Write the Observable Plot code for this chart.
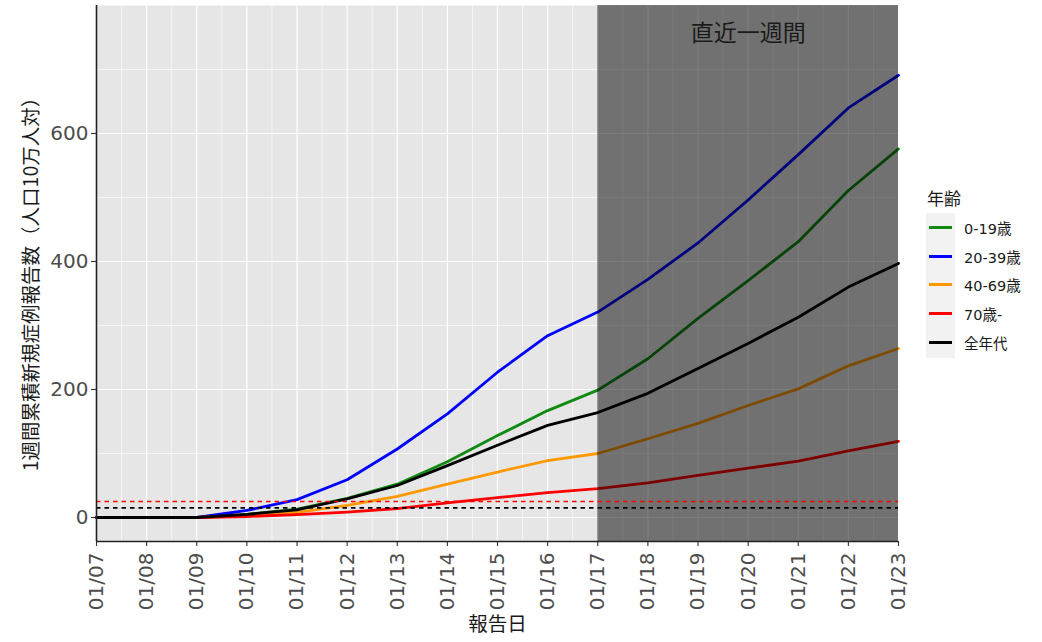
<!DOCTYPE html>
<html>
<head>
<meta charset="utf-8">
<script src="https://cdn.jsdelivr.net/npm/d3@7"></script>
<script src="https://cdn.jsdelivr.net/npm/@observablehq/plot@0.6"></script>
<style>
  html, body { margin: 0; padding: 0; background: #fff; }
  #wrap { position: relative; width: 1042px; height: 642px; font-family: "DejaVu Sans", "Noto Sans CJK JP", sans-serif; }
  #legend { position: absolute; left: 926px; top: 187px; color: #1a1a1a; }
  #legend .title { font-family: "Noto Sans CJK JP", sans-serif; font-size: 17px; height: 26px; line-height: 22px; margin-left: 1px; }
  #legend .keys { position: relative; }
  #legend .bg { position: absolute; left: 0; top: 0; width: 29px; height: 145px; background: #f2f2f2; }
  #legend .row { position: relative; height: 28.7px; display: flex; align-items: center; }
  #legend .swatch { width: 23px; height: 3px; margin-left: 3px; }
  #legend .label { margin-left: 12px; font-size: 14.5px; font-family: "DejaVu Sans", "Noto Sans CJK JP", sans-serif; color: #1a1a1a; }
</style>
</head>
<body>
<div id="wrap"></div>
<script>
// Report dates (month/day)
const dates = ["01/07","01/08","01/09","01/10","01/11","01/12","01/13","01/14","01/15",
               "01/16","01/17","01/18","01/19","01/20","01/21","01/22","01/23"];

// Age groups and their line colours
const ageGroups = ["0-19歳", "20-39歳", "40-69歳", "70歳-", "全年代"];
const groupColors = ["#108a10", "#0000ff", "#ff9900", "#ff0000", "#000000"];

// Cumulative new cases over one week, per 100,000 population
const age0to19  = [0, 0, 0, 5, 13, 30, 52, 87, 128, 167, 199, 248, 311, 370, 431, 511, 576];
const age20to39 = [0, 0, 0, 11, 28, 59, 107, 162, 227, 284, 321, 372, 429, 496, 567, 640, 691];
const age40to69 = [0, 0, 0, 3, 8, 19, 33, 52, 71, 89, 100, 123, 147, 175, 201, 237, 264];
const age70plus = [0, 0, 0, 1.5, 4.5, 8.5, 14, 23, 31, 39, 45, 54, 66, 77, 88, 104, 119];
const allAges   = [0, 0, 0, 5, 12, 29, 50, 81, 113, 144, 164, 194, 233, 272, 313, 360, 397];

// Reference levels (per 100,000 per week)
const levelRed = 25;
const levelBlack = 15;

// Highlighted most-recent week
const recentStart = "01/17";
const recentEnd = "01/23";
const recentLabel = "直近一週間";

// Axis settings
const yMajorTicks = [0, 200, 400, 600];
const yMinorTicks = [100, 300, 500, 700];
const yDomain = [-37.5, 800];

const yTitle = "1週間累積新規症例報告数（人口10万人対）";
const xTitle = "報告日";

const parseDate = s => d3.utcParse("%Y/%m/%d")("2021/" + s);
const dateValues = dates.map(parseDate);

const seriesValues = [age0to19, age20to39, age40to69, age70plus, allAges];
const rows = [];
ageGroups.forEach((g, gi) => {
  dates.forEach((d, i) => rows.push({group: g, date: dateValues[i], value: seriesValues[gi][i]}));
});

const xStart = dateValues[0];
const xEnd = dateValues[dateValues.length - 1];
const halfDays = dateValues.slice(0, -1).map(d => d3.utcHour.offset(d, 12));
const recent = [{x1: parseDate(recentStart), x2: parseDate(recentEnd)}];
const recentMid = new Date((recent[0].x1.getTime() + recent[0].x2.getTime()) / 2);

const cjk = "'Noto Sans CJK JP', sans-serif";

const chart = Plot.plot({
  width: 1042,
  height: 642,
  marginLeft: 96,
  marginRight: 144,
  marginTop: 5,
  marginBottom: 101,
  style: {background: "transparent", fontFamily: "'DejaVu Sans', 'Noto Sans CJK JP', sans-serif", overflow: "visible"},
  x: {type: "utc", domain: [xStart, xEnd]},
  y: {domain: yDomain},
  color: {domain: ageGroups, range: groupColors},
  marks: [
    Plot.frame({fill: "#e6e6e6", stroke: null}),
    Plot.gridX({ticks: halfDays, stroke: "#fff", strokeOpacity: 1, strokeWidth: 0.6}),
    Plot.gridX({ticks: dateValues, stroke: "#fff", strokeOpacity: 1, strokeWidth: 1.2}),
    Plot.gridY({ticks: yMinorTicks, stroke: "#fff", strokeOpacity: 1, strokeWidth: 0.6}),
    Plot.gridY({ticks: yMajorTicks, stroke: "#fff", strokeOpacity: 1, strokeWidth: 1.2}),
    Plot.line(rows, {x: "date", y: "value", z: "group", stroke: "group", strokeWidth: 2.8}),
    Plot.rect(recent, {x1: "x1", x2: "x2", y1: yDomain[0], y2: yDomain[1], fill: "#000", fillOpacity: 0.51}),
    Plot.ruleY([levelRed], {stroke: "#ff0000", strokeWidth: 1.6, strokeDasharray: "4.5,4"}),
    Plot.ruleY([levelBlack], {stroke: "#000", strokeWidth: 1.6, strokeDasharray: "4.5,4"}),
    Plot.text([recentLabel], {x: () => recentMid, text: d => d, frameAnchor: "top", lineAnchor: "middle", dy: 28,
      fontSize: 23, fill: "#1a1a1a", fontFamily: cjk}),
    Plot.axisY({ticks: yMajorTicks, tickSize: 5, tickPadding: 3, fontSize: 20, label: null,
      fill: "#4d4d4d", stroke: "#333", strokeWidth: 1.1}),
    Plot.axisX({ticks: dateValues, tickFormat: d3.utcFormat("%m/%d"), tickRotate: -90, tickSize: 5,
      tickPadding: 6, fontSize: 20, label: null, fill: "#4d4d4d", stroke: "#333", strokeWidth: 1.1}),
    Plot.ruleX([xStart], {stroke: "#222", strokeWidth: 1.6}),
    Plot.ruleY([yDomain[0]], {stroke: "#222", strokeWidth: 1.6}),
    Plot.text([yTitle], {text: d => d, frameAnchor: "left", textAnchor: "middle", dx: -65, dy: 6, rotate: -90,
      fontSize: 19.5, fill: "#1a1a1a", fontFamily: cjk}),
    Plot.text([xTitle], {text: d => d, frameAnchor: "bottom", lineAnchor: "middle", dy: 83,
      fontSize: 19.5, fill: "#1a1a1a", fontFamily: cjk})
  ]
});

const wrap = document.getElementById("wrap");
wrap.appendChild(chart);

// Legend for the age groups
const legend = document.createElement("div");
legend.id = "legend";
const title = document.createElement("div");
title.className = "title";
title.textContent = "年齢";
legend.appendChild(title);
const keys = document.createElement("div");
keys.className = "keys";
const bg = document.createElement("div");
bg.className = "bg";
keys.appendChild(bg);
ageGroups.forEach((g, i) => {
  const row = document.createElement("div");
  row.className = "row";
  const sw = document.createElement("div");
  sw.className = "swatch";
  sw.style.background = groupColors[i];
  const lb = document.createElement("div");
  lb.className = "label";
  lb.textContent = g;
  row.appendChild(sw);
  row.appendChild(lb);
  keys.appendChild(row);
});
legend.appendChild(keys);
wrap.appendChild(legend);
</script>
</body>
</html>
